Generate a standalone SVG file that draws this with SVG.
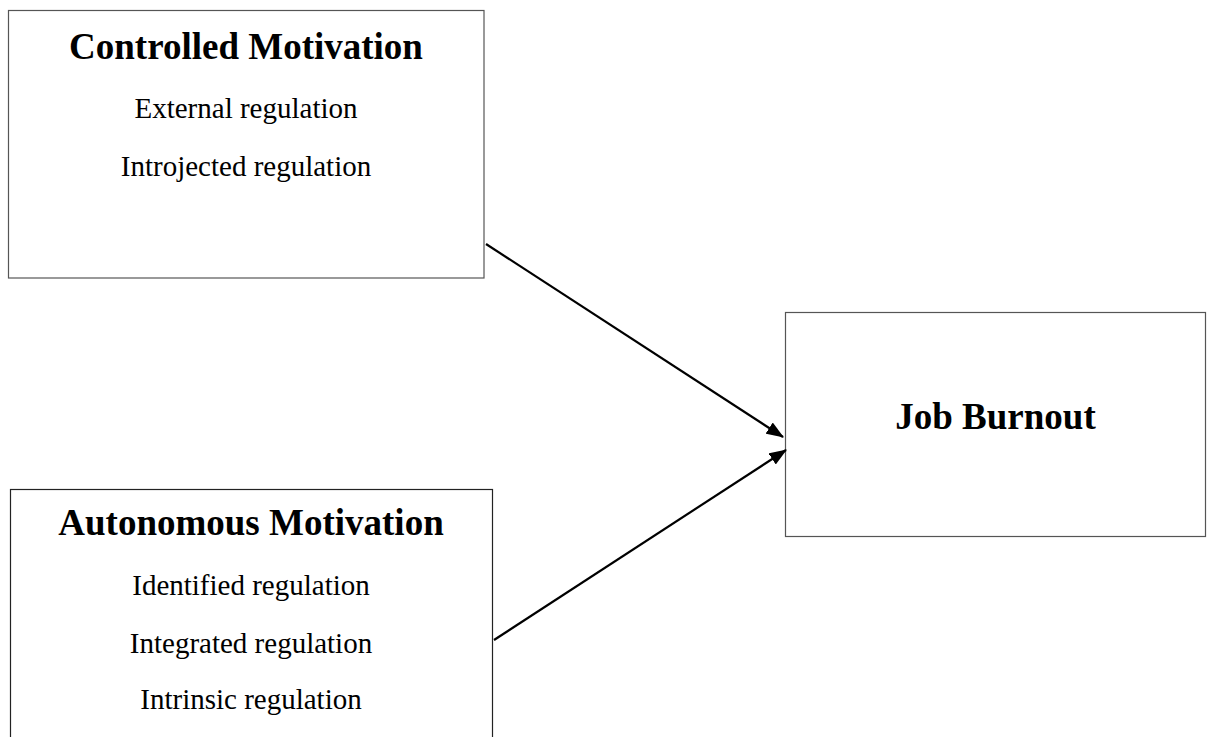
<svg xmlns="http://www.w3.org/2000/svg" width="1211" height="737" viewBox="0 0 1211 737">
<style>
.box{fill:#fff;stroke:#555;stroke-width:1.2}
.t{font-family:"Liberation Serif","Times New Roman",serif;text-anchor:middle;fill:#000}
.h{font-weight:bold;font-size:37px}
.s{font-size:29px}
.c{stroke:#000;stroke-width:2.2;fill:none;marker-end:url(#ah)}
</style>
<defs>
<marker id="ah" markerWidth="8" markerHeight="6" refX="7.5" refY="3" orient="auto" markerUnits="strokeWidth">
<path d="M0,0 L8,3 L0,6 z" fill="#000"/>
</marker>
</defs>
<rect width="1211" height="737" fill="#fff"/>
<g id="controlled">
<rect class="box" x="8.5" y="10.5" width="475.5" height="267.5"/>
<text class="t h" x="246" y="59">Controlled Motivation</text>
<text class="t s" x="246" y="118">External regulation</text>
<text class="t s" x="246" y="176">Introjected regulation</text>
</g>
<g id="autonomous">
<rect class="box" style="stroke:#222" x="10.5" y="489.5" width="482" height="260"/>
<text class="t h" x="251" y="535">Autonomous Motivation</text>
<text class="t s" x="251" y="595">Identified regulation</text>
<text class="t s" x="251" y="652.5">Integrated regulation</text>
<text class="t s" x="251" y="709">Intrinsic regulation</text>
</g>
<g id="burnout">
<rect class="box" x="785.5" y="312.5" width="420" height="224"/>
<text class="t h" x="995.5" y="429">Job Burnout</text>
</g>
<g id="connectors">
<line class="c" x1="486" y1="244" x2="783" y2="437"/>
<line class="c" x1="494" y1="640" x2="786" y2="450"/>
</g>
</svg>
